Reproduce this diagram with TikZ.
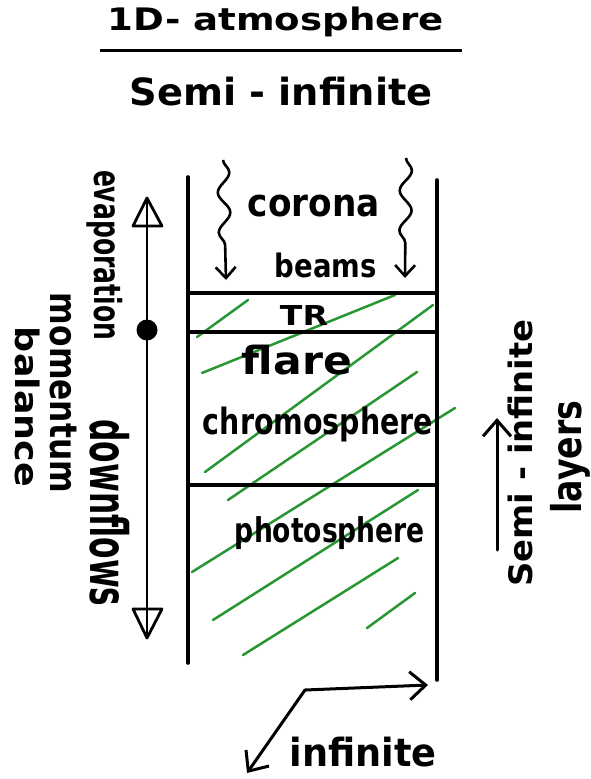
\documentclass[tikz,border=0pt]{standalone}
\usepackage{fontspec}
\setmainfont{DejaVu Sans}
\usepackage{graphicx}
\usetikzlibrary{arrows.meta,decorations.pathmorphing}
\definecolor{hatchgreen}{RGB}{40,150,50}
\newcommand{\fitbox}[3]{\resizebox*{#1pt}{#2pt}{\bfseries #3}}
\begin{document}
\begin{tikzpicture}[x=1pt,y=-1pt,
  lbl/.style={inner sep=0pt,outer sep=0pt},
  wall/.style={line width=3.6pt,line cap=round},
  hatch/.style={draw=hatchgreen,line width=2.5pt,line cap=round},
  wave/.style={line width=2.6pt,decorate,
    decoration={snake,amplitude=6pt,segment length=40pt,post length=18pt},
    -{Straight Barb[length=11pt,width=20pt]}},
  barb/.style={line width=3pt,line cap=round,-{Straight Barb[length=16pt,width=28pt]}},
  opentri/.style={draw,line width=2.8pt,fill=white,line join=round}]
\useasboundingbox (0,0) rectangle (591,779);

% title
\node[lbl] (title) at (276,22) {\fitbox{336}{30}{1D- atmosphere}};
\coordinate (ul1) at (100,50);
\coordinate (ul2) at (462,50);
\draw[line width=3pt] (ul1) -- (ul2);
\node[lbl] (sub) at (281,92) {\fitbox{303}{29}{Semi - infinite}};

% column
\coordinate (LT) at (188,177); \coordinate (LB) at (188,663);
\coordinate (RT) at (437,180); \coordinate (RB) at (437,680);
\coordinate (h1l) at (188,293); \coordinate (h1r) at (437,293);
\coordinate (h2l) at (188,332); \coordinate (h2r) at (437,332);
\coordinate (h3l) at (188,485); \coordinate (h3r) at (437,485);

% green hatching
\draw[hatch] (197,337) -- (248,300);
\draw[hatch] (202,373) -- (395,295);
\draw[hatch] (205,472) -- (433,305);
\draw[hatch] (228,500) -- (417,372);
\draw[hatch] (192,572) -- (455,408);
\draw[hatch] (213,620) -- (418,490);
\draw[hatch] (243,655) -- (398,558);
\draw[hatch] (367,628) -- (415,593);

\draw[wall] (LT) -- (LB);
\draw[wall] (RT) -- (RB);
\draw[wall] (h1l) -- (h1r);
\draw[wall] (h2l) -- (h2r);
\draw[wall] (h3l) -- (h3r);

% layer labels
\node[lbl] (corona) at (314,206) {\fitbox{132}{22}{corona}};
\node[lbl] (beams) at (326,265) {\fitbox{102}{25}{beams}};
\node[lbl] (tr) at (304,315) {\fitbox{48}{20}{TR}};
\node[lbl] (flare) at (297,360) {\fitbox{110}{30}{flare}};
\node[lbl] (chromo) at (318,425) {\fitbox{230}{35}{chromosphere}};
\node[lbl] (photo) at (330,533) {\fitbox{190}{33}{photosphere}};

% wavy beams
\coordinate (w1s) at (223,160); \coordinate (w1e) at (226,280);
\coordinate (w2s) at (406,158); \coordinate (w2e) at (405,278);
\draw[wave] (w1s) -- (w1e);
\draw[wave] (w2s) -- (w2e);

% left double arrow
\coordinate (at) at (147,198);
\coordinate (ab) at (147,638);
\draw[line width=2.4pt] (at) -- (ab);
\draw[opentri] (at) -- (133,226) -- (162,226) -- cycle;
\draw[opentri] (ab) -- (133,609) -- (162,609) -- cycle;
\draw[line width=2.4pt] (at) -- (147,226);
\draw[line width=2.4pt] (ab) -- (147,609);
\node[circle,fill,inner sep=0pt,minimum size=21pt] (dot) at (147,330) {};

\node[lbl,rotate=-90] (evap) at (105,255) {\fitbox{170}{36}{evaporation}};
\node[lbl,rotate=-90] (down) at (110,513) {\fitbox{187}{40}{downflows}};
\node[lbl,rotate=-90] (mom) at (63,393) {\fitbox{200}{27}{momentum}};
\node[lbl,rotate=-90] (bal) at (28,407) {\fitbox{160}{25}{balance}};

% right side
\coordinate (ra1) at (497,550); \coordinate (ra2) at (497,418);
\draw[barb] (ra1) -- (ra2);
\node[lbl,rotate=90] (semi) at (520,453) {\fitbox{267}{25}{Semi - infinite}};
\node[lbl,rotate=90] (layers) at (570,457) {\fitbox{113}{40}{layers}};

% bottom axes
\coordinate (o) at (305,690);
\coordinate (ox) at (428,685);
\coordinate (oy) at (247,773);
\draw[barb] (o) -- (ox);
\draw[barb] (o) -- (oy);
\node[lbl] (inf) at (363,752) {\fitbox{147}{30}{infinite}};
\end{tikzpicture}
\end{document}
